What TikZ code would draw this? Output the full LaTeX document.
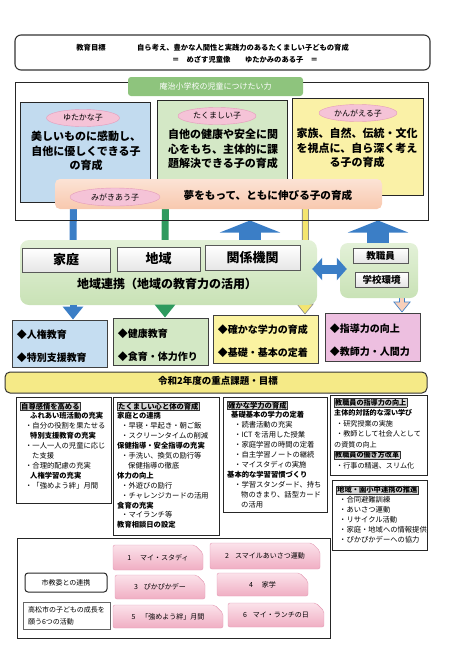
\documentclass[tikz,border=0pt]{standalone}
\usepackage{fontspec}
\setmainfont{Noto Sans CJK JP}
\usepackage{xcolor}
\usepackage{tikz}
\usetikzlibrary{arrows.meta,calc,positioning,backgrounds,shapes.geometric,shapes.misc}
\definecolor{yutablue}{HTML}{C2DBEF}
\definecolor{takugreen}{HTML}{D4E8C6}
\definecolor{kanyellow}{HTML}{FAF1A7}
\definecolor{tagpink}{HTML}{F5C3D7}
\definecolor{tagedge}{HTML}{E59BBB}
\definecolor{peach}{HTML}{F8C8AE}
\definecolor{peachlt}{HTML}{FCE3D5}
\definecolor{labgreen}{HTML}{8EC47D}
\definecolor{arrblue}{HTML}{3B7EC6}
\definecolor{arrgreen}{HTML}{2E9A5E}
\definecolor{shaftyel}{HTML}{F4E56F}
\definecolor{arrpink}{HTML}{F8CFBA}
\definecolor{renkeilt}{HTML}{E3F1D8}
\definecolor{renkeidk}{HTML}{C9E2B6}
\definecolor{rowblue}{HTML}{C5DDF1}
\definecolor{rowgreen}{HTML}{D3E8C5}
\definecolor{rowyellow}{HTML}{FBF3A1}
\definecolor{rowpink}{HTML}{EDBFE0}
\definecolor{headyel}{HTML}{F5EA87}
\definecolor{btntop}{HTML}{FBE2EA}
\definecolor{btnbot}{HTML}{F0AEC3}
\definecolor{btnedge}{HTML}{E39AB4}
\definecolor{hdgray}{HTML}{D6D6D6}
\newcommand{\fs}[2]{\fontsize{#1}{#2}\selectfont}
\newcommand{\hdbox}[1]{{\setlength{\fboxsep}{0.6pt}\fcolorbox{black!80}{hdgray}{\bfseries #1}}}

\begin{document}
\begin{tikzpicture}[x=1pt, y=-1pt,
  goalbox/.style   = {draw=black!80, rounded corners=6pt, line width=1.1pt,
                      minimum width=415, minimum height=35},
  kidbox/.style    = {draw=black!85, fill=#1, line width=1pt, anchor=north west,
                      minimum width=130, minimum height=100},
  kidtag/.style    = {ellipse, draw=tagedge, fill=tagpink, inner sep=0pt,
                      minimum width=78, minimum height=17, font=\fs{8}{9}},
  kidtxt/.style    = {align=center, font=\fs{11}{14.2}\bfseries},
  mainbar/.style   = {rounded corners=5pt, top color=peachlt, bottom color=peach,
                      minimum width=327, minimum height=30},
  renkei/.style    = {rounded corners=9pt, top color=renkeilt, bottom color=renkeidk},
  wbox/.style      = {draw=black!65, top color=white, bottom color=black!10,
                      line width=0.7pt, inner sep=0pt},
  rowbox/.style    = {draw=black!75, fill=#1, line width=0.9pt,
                      minimum width=95, minimum height=47},
  rowtxt/.style    = {anchor=west, align=left, inner sep=0pt, font=\fs{10}{23}\bfseries},
  kadai/.style     = {draw=black!85, line width=0.9pt, anchor=north west},
  kadaitxt/.style  = {anchor=north west, align=left, inner sep=0pt, font=\fs{7.3}{9.9}},
  btn/.style       = {chamfered rectangle, chamfered rectangle corners=north east,
                      chamfered rectangle xsep=5pt, chamfered rectangle ysep=5pt,
                      draw=btnedge, top color=btntop, bottom color=btnbot,
                      rounded corners=2pt, inner sep=0pt, font=\fs{7}{8}},
  shaft/.style     = {line width=7pt, draw=#1},
  shafttip/.style  = {line width=7pt, draw=#1, -{Triangle[width=20pt,length=13pt]}},
  uparr/.style     = {line width=22pt, draw=arrblue, -{Triangle[width=60pt,length=12pt]}},
]
\useasboundingbox (0,0) rectangle (474,670);

\node[goalbox] (goal) at (222.5,52.5) {};
\node[font=\fs{7.3}{8}\bfseries] (mokuhyo) at (91,48) {教育目標};
\node[font=\fs{7.3}{8}\bfseries] (goaltxt) at (243,48) {自ら考え、豊かな人間性と実践力のあるたくましい子どもの育成};
\node[font=\fs{7.3}{8}\bfseries] (mezasu) at (245,60) {＝　めざす児童像　　ゆたかみのある子　＝};

\node[draw=black!85, line width=1pt, minimum width=413, minimum height=138] (frame) at (221.5,151) {};
\node[fill=labgreen, rounded corners=3pt, minimum width=175, minimum height=19,
      text=white, font=\fs{8}{9}] (chikara) at (215.5,86.5) {庵治小学校の児童につけたい力};

\node[kidbox=yutablue] (yutaka) at (20,102) {};
\node[kidbox=takugreen] (taku) at (157,100) {};
\node[kidbox=kanyellow, minimum width=131, minimum height=97] (kan) at (292,98) {};
\node[kidtag, minimum width=73] (yutakatag) at (83,118) {ゆたかな子};
\node[kidtag] (takutag) at (217,116) {たくましい子};
\node[kidtag] (kantag) at (358,113) {かんがえる子};
\node[kidtxt] (yutakatxt) at (86,151) {美しいものに感動し、\\自他に優しくできる子\\の育成};
\node[kidtxt] (takutxt) at (223,149) {自他の健康や安全に関\\心をもち、主体的に課\\題解決できる子の育成};
\node[kidtxt] (kantxt) at (357,148) {家族、自然、伝統・文化\\を視点に、自ら深く考え\\る子の育成};

\node[mainbar] (yume) at (218.5,194) {};
\node[kidtag, minimum width=90, minimum height=18] (migaki) at (115,197) {みがきあう子};
\node[font=\fs{10.6}{12}\bfseries] (yumetxt) at (268,195) {夢をもって、ともに伸びる子の育成};

\node[renkei, minimum width=297, minimum height=65] (chiiki) at (168.5,272.5) {};
\node[wbox, minimum width=88, minimum height=24, font=\fs{13}{14}\bfseries] (katei) at (66,260) {家庭};
\node[wbox, minimum width=83, minimum height=24, font=\fs{13}{14}\bfseries] (chiikib) at (158.5,259) {地域};
\node[wbox, minimum width=95, minimum height=25, font=\fs{13}{14}\bfseries] (kankei) at (252.5,257.5) {関係機関};
\node[font=\fs{12}{13}\bfseries] (renkeitxt) at (167,284) {地域連携（地域の教育力の活用）};

\node[renkei, rounded corners=8pt, minimum width=78, minimum height=55] (school) at (379,270.5) {};
\node[wbox, minimum width=55, minimum height=15, font=\fs{9.5}{10}\bfseries] (kyoshoku) at (380.5,255.5) {教職員};
\node[wbox, minimum width=53, minimum height=15, font=\fs{9.5}{10}\bfseries] (kankyo) at (381.5,279.5) {学校環境};

\draw[line width=9pt, draw=arrblue, {Triangle[width=22pt,length=10pt]}-{Triangle[width=22pt,length=10pt]}]
  ([xshift=-5pt,yshift=3.5pt]chiiki.east) -- ([xshift=7pt,yshift=1.5pt]school.west);

\node[rowbox=rowblue] (jinken) at (59.5,343.5) {};
\node[rowbox=rowgreen] (kenko) at (160.5,341.5) {};
\node[rowbox=rowyellow, minimum width=105, minimum height=48] (gakuryoku) at (265.5,339) {};
\node[rowbox=rowpink, minimum height=48] (shido) at (372.5,337) {};
\node[rowtxt] (jinkentxt) at ([xshift=5pt,yshift=-3pt]jinken.west) {◆人権教育\\◆特別支援教育};
\node[rowtxt] (kenkotxt) at ([xshift=5pt,yshift=-3.5pt]kenko.west) {◆健康教育\\◆食育・体力作り};
\node[rowtxt] (gakuryokutxt) at ([xshift=5pt,yshift=-2.5pt]gakuryoku.west) {◆確かな学力の育成\\◆基礎・基本の定着};
\node[rowtxt] (shidotxt) at ([xshift=5pt,yshift=-3pt]shido.west) {◆指導力の向上\\◆教師力・人間力};

\draw[shafttip=arrblue] ([xshift=-95.5pt]chiiki.south) -- ([xshift=13.5pt]jinken.north);
\draw[shafttip=arrgreen] ([xshift=-3.5pt]chiiki.south) -- ([xshift=4.5pt]kenko.north);

\node[draw=black!80, line width=1pt, fill=headyel, rounded corners=5pt,
      minimum width=422, minimum height=21] (juten) at (216,382.5) {};
\node[font=\fs{9.5}{10}\bfseries] (jutentxt) at (218,381) {令和2年度の重点課題・目標};

\node[kadai, minimum width=95, minimum height=106] (kadai1) at (16,397) {};
\node[kadai, minimum width=106, minimum height=138] (kadai2) at (113,397) {};
\node[kadai, minimum width=104, minimum height=115] (kadai3) at (223,397) {};
\node[kadai, minimum width=97, minimum height=80] (kadai4) at (330,395) {};
\node[kadai, minimum width=95, minimum height=70] (kadai5) at (332,480) {};

\node[kadaitxt] (kadai1txt) at ($(kadai1.north west)+(4,4.5)$) {\hdbox{自尊感情を高める}\\
  \hspace*{10pt}\textbf{ふれあい班活動の充実}\\
  \hspace*{5pt}・自分の役割を果たせる\\
  \hspace*{10pt}\textbf{特別支援教育の充実}\\
  \hspace*{5pt}・一人一人の児童に応じ\\
  \hspace*{12pt}た支援\\
  \hspace*{5pt}・合理的配慮の充実\\
  \hspace*{10pt}\textbf{人権学習の充実}\\
  \hspace*{5pt}・「強めよう絆」月間};
\node[kadaitxt] (kadai2txt) at ($(kadai2.north west)+(4,4.5)$) {\hdbox{たくましい心と体の育成}\\
  \textbf{家庭との連携}\\
  \hspace*{4pt}・早寝・早起き・朝ご飯\\
  \hspace*{4pt}・スクリーンタイムの削減\\
  \textbf{保健指導・安全指導の充実}\\
  \hspace*{4pt}・手洗い、換気の励行等\\
  \hspace*{11pt}保健指導の徹底\\
  \textbf{体力の向上}\\
  \hspace*{4pt}・外遊びの励行\\
  \hspace*{4pt}・チャレンジカードの活用\\
  \textbf{食育の充実}\\
  \hspace*{4pt}・マイランチ等\\
  \textbf{教育相談日の設定}};
\node[kadaitxt] (kadai3txt) at ($(kadai3.north west)+(4,3.5)$) {\hdbox{確かな学力の育成}\\
  \hspace*{4pt}\textbf{基礎基本の学力の定着}\\
  \hspace*{7pt}・読書活動の充実\\
  \hspace*{7pt}・ICT を活用した授業\\
  \hspace*{7pt}・家庭学習の時間の定着\\
  \hspace*{7pt}・自主学習ノートの継続\\
  \hspace*{7pt}・マイスタディの実施\\
  \textbf{基本的な学習習慣づくり}\\
  \hspace*{7pt}・学習スタンダード、持ち\\
  \hspace*{14pt}物のきまり、話型カード\\
  \hspace*{14pt}の活用};
\node[kadaitxt, font=\fs{7.1}{10.5}] (kadai4txt) at ($(kadai4.north west)+(4,3)$) {\hdbox{教職員の指導力の向上}\\
  \textbf{主体的対話的な深い学び}\\
  \hspace*{2pt}・研究授業の実施\\
  \hspace*{2pt}・教師として社会人として\\
  の資質の向上\\
  \hdbox{教職員の働き方改革}\\
  \hspace*{2pt}・行事の精選、スリム化};
\node[kadaitxt, font=\fs{7.3}{10}] (kadai5txt) at ($(kadai5.north west)+(4,5.5)$) {\hdbox{地域・園小中連携の推進}\\
  \hspace*{3pt}・合同避難訓練\\
  \hspace*{3pt}・あいさつ運動\\
  \hspace*{3pt}・リサイクル活動\\
  \hspace*{3pt}・家庭・地域への情報提供\\
  \hspace*{3pt}・ぴかぴかデーへの協力};

\node[kadai, minimum width=313, minimum height=100] (katsudo) at (17,538) {};
\node[btn, minimum width=90, minimum height=25] (btn1) at (158,557.5) {1\hspace{9pt}マイ・スタディ};
\node[btn, minimum width=110, minimum height=26] (btn2) at (265,556) {2\hspace{6pt}スマイルあいさつ運動};
\node[btn, minimum width=90, minimum height=24] (btn3) at (160,587) {3\hspace{6pt}ぴかぴかデー};
\node[btn, minimum width=91, minimum height=23] (btn4) at (262.5,584.5) {4\hspace{9pt}家学};
\node[btn, minimum width=110, minimum height=23] (btn5) at (168,616.5) {5\hspace{6pt}「強めよう絆」月間};
\node[btn, minimum width=96, minimum height=24] (btn6) at (276,615) {6\hspace{6pt}マイ・ランチの日};
\node[draw=black!85, line width=1pt, rounded corners=3pt, minimum width=82,
      minimum height=19, font=\fs{7}{8}] (shikyoi) at (66,582.5) {市教委との連携};
\node[draw=black!60, line width=0.7pt, minimum width=87, minimum height=27,
      align=left, inner sep=2pt, font=\fs{7}{12}] (rokkatsu) at (66.5,615.5) {高松市の子どもの成長を\\願う6つの活動};

\begin{scope}[on background layer]
\draw[shaft=arrblue] ([xshift=-12pt]yutaka.south) -- ([xshift=-95.5pt]chiiki.north);
\draw[shaft=arrgreen] ([xshift=-57pt]taku.south) -- ([xshift=-3.5pt]chiiki.north);
\draw[line width=7pt, draw=black!45, -{Triangle[width=17pt,length=11pt]}]
  ([xshift=-52.5pt]kan.south) -- ([xshift=39.5pt]gakuryoku.north);
\draw[line width=5pt, draw=shaftyel, -{Triangle[width=14pt,length=9pt]}, shorten >=1.3pt]
  ([xshift=-52.5pt]kan.south) -- ([xshift=39.5pt]gakuryoku.north);
\draw[line width=6.5pt, draw=arrblue, -{Triangle[width=17pt,length=11pt]}]
  ([xshift=23pt]school.south) -- ([xshift=29.5pt]shido.north);
\draw[line width=4.5pt, draw=arrpink, -{Triangle[width=14pt,length=9pt]}, shorten >=1.3pt]
  ([xshift=23pt]school.south) -- ([xshift=29.5pt]shido.north);
\draw[uparr] ([xshift=81.5pt]chiiki.north) -- ([xshift=28.5pt]frame.south);
\draw[uparr] ([xshift=-1pt]school.north) -- ([xshift=156.5pt]frame.south);
\end{scope}
\end{tikzpicture}
\end{document}
